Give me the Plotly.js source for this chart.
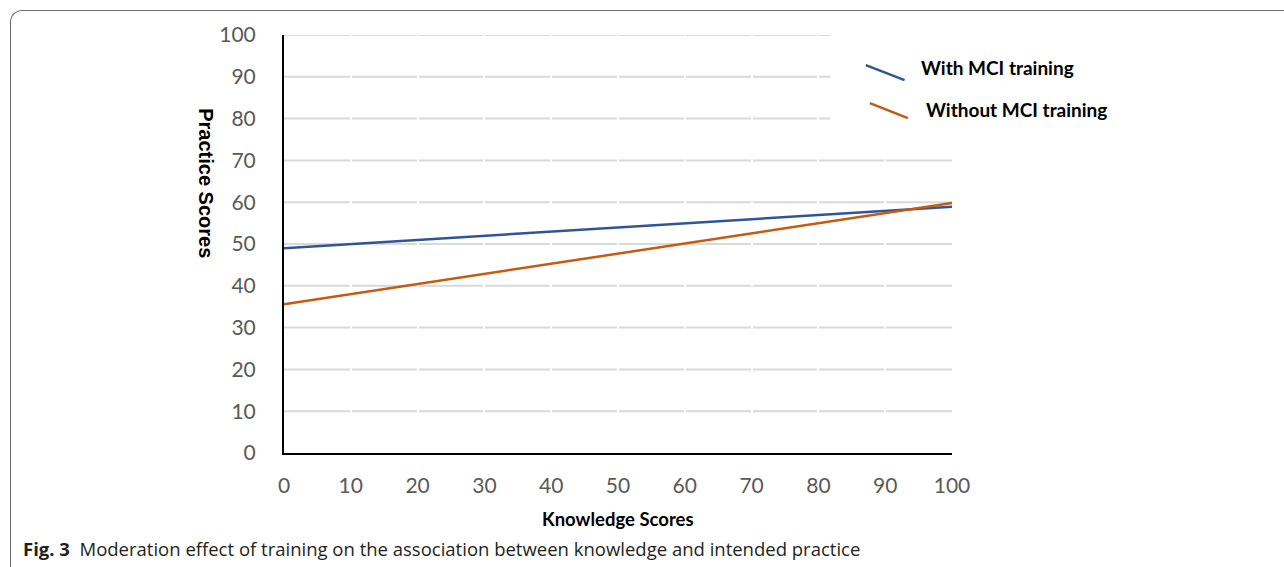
<!DOCTYPE html>
<html>
<head>
<meta charset="utf-8">
<script src="https://cdn.plot.ly/plotly-3.0.1.min.js"></script>
<style>
html,body{margin:0;padding:0;background:#fff;overflow:hidden;}
#frame{position:absolute;left:10px;top:10px;width:1290px;height:600px;border-left:1.5px solid #6b6b6b;border-top:1.5px solid #6b6b6b;border-top-left-radius:12px;box-sizing:border-box;}
#chart{position:absolute;left:0;top:0;width:1284px;height:567px;}
</style>
</head>
<body>
<div id="frame"></div>
<div id="chart"></div>
<script>
// Data
const knowledge = [0, 100];
const withTraining = [49.0, 58.9];
const withoutTraining = [35.6, 59.8];
const xTicks = [0, 10, 20, 30, 40, 50, 60, 70, 80, 90, 100];
const yTicks = [0, 10, 20, 30, 40, 50, 60, 70, 80, 90, 100];
const seriesNames = ['With MCI training', 'Without MCI training'];
const colors = ['#2f5597', '#c55a11'];

const traces = [
  {x: knowledge, y: withTraining, mode: 'lines', name: seriesNames[0], line: {color: colors[0], width: 2.5}, showlegend: false, hoverinfo: 'skip'},
  {x: knowledge, y: withoutTraining, mode: 'lines', name: seriesNames[1], line: {color: colors[1], width: 2.5}, showlegend: false, hoverinfo: 'skip'}
];

// horizontal gridlines as shapes beneath white vertical grid (gives small gaps)
const shapes = yTicks.filter(v => v > 0).map(v => ({
  type: 'line', xref: 'x', yref: 'y', x0: 0, x1: 100, y0: v, y1: v,
  line: {color: '#d9d9d9', width: 2}, layer: 'below'
}));
// legend area (covers upper gridlines)
shapes.push({type: 'rect', xref: 'paper', yref: 'paper', x0: 0.818, x1: 1.3, y0: 0.705, y1: 1.05,
  fillcolor: '#ffffff', line: {width: 0}, layer: 'above'});
// legend sample lines (slanted)
shapes.push({type: 'line', xref: 'paper', yref: 'paper', x0: 0.871, y0: 0.928, x1: 0.929, y1: 0.892,
  line: {color: colors[0], width: 2.5}, layer: 'above'});
shapes.push({type: 'line', xref: 'paper', yref: 'paper', x0: 0.877, y0: 0.837, x1: 0.934, y1: 0.801,
  line: {color: colors[1], width: 2.5}, layer: 'above'});

const annotations = [
  {xref: 'paper', yref: 'paper', x: 0.951, y: 0.923, xanchor: 'left', yanchor: 'middle', showarrow: false,
   text: '<b>' + seriesNames[0] + '</b>', font: {family: 'Lato', size: 19, color: '#000'}},
  {xref: 'paper', yref: 'paper', x: 0.958, y: 0.822, xanchor: 'left', yanchor: 'middle', showarrow: false,
   text: '<b>' + seriesNames[1] + '</b>', font: {family: 'Lato', size: 19, color: '#000'}},
  {xref: 'paper', yref: 'paper', x: -0.118, y: 0.645, xanchor: 'center', yanchor: 'middle', showarrow: false,
   textangle: 90, text: '<b>Practice Scores</b>', font: {family: 'Liberation Sans', size: 20, color: '#000'}},
  {xref: 'paper', yref: 'paper', x: 0.5, y: -0.159, xanchor: 'center', yanchor: 'middle', showarrow: false,
   text: '<b>Knowledge Scores</b>', font: {family: 'Lato', size: 18.5, color: '#000'}},
  {xref: 'paper', yref: 'paper', x: -0.394, y: -0.229, xanchor: 'left', yanchor: 'middle', showarrow: false,
   text: '<b>Fig. 3</b>  Moderation effect of training on the association between knowledge and intended practice',
   font: {family: 'Open Sans', size: 18.5, color: '#231f20'}}
];

const layout = {
  width: 1284, height: 567,
  margin: {l: 284, r: 332, t: 35, b: 114, pad: 0},
  paper_bgcolor: 'rgba(0,0,0,0)', plot_bgcolor: 'rgba(0,0,0,0)',
  showlegend: false,
  xaxis: {
    range: [0, 100], tickvals: xTicks, ticktext: xTicks.map(String),
    showgrid: true, gridcolor: '#ffffff', gridwidth: 2,
    zeroline: false, showline: true, linecolor: '#000', linewidth: 2,
    ticks: 'outside', ticklen: 13, tickcolor: 'rgba(0,0,0,0)',
    tickfont: {family: 'Lato', size: 21, color: '#595959'}, fixedrange: true
  },
  yaxis: {
    range: [0, 100], tickvals: yTicks, ticktext: yTicks.map(String),
    showgrid: false, zeroline: false, showline: true, linecolor: '#000', linewidth: 2,
    ticks: 'outside', ticklen: 22, tickcolor: 'rgba(0,0,0,0)',
    tickfont: {family: 'Lato', size: 21, color: '#595959'}, fixedrange: true
  },
  shapes: shapes,
  annotations: annotations
};

Plotly.newPlot('chart', traces, layout, {displayModeBar: false, staticPlot: true});
</script>
</body>
</html>
